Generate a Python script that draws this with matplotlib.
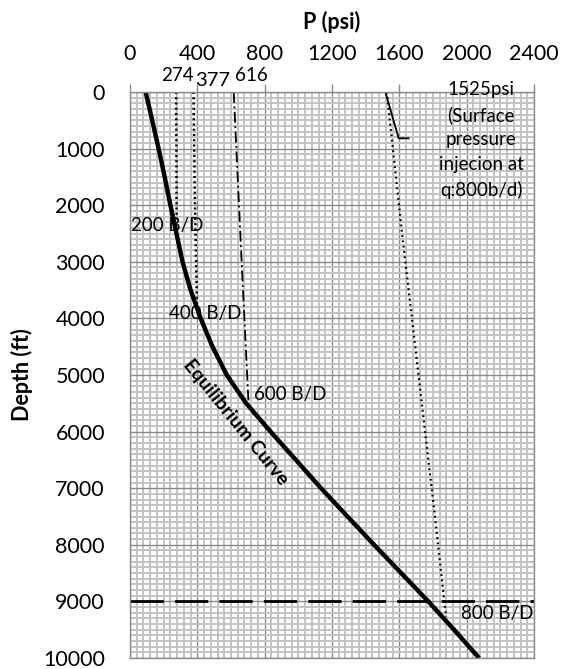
import numpy as np
import matplotlib
matplotlib.use("Agg")
import matplotlib.pyplot as plt
from matplotlib.ticker import MultipleLocator

plt.rcParams['font.family'] = ['Lato', 'DejaVu Sans']

# equilibrium curve (psi vs depth ft)
eq_depth = [0, 500, 1000, 1500, 2000, 2500, 3000, 3500, 4000, 4500, 5000,
            5500, 6000, 6500, 7000, 7500, 8000, 8500, 9000, 9500, 10000]
eq_psi = [93, 132, 170, 206, 240, 276, 312, 360, 420, 490, 575,
          690, 835, 985, 1135, 1292, 1450, 1611, 1772, 1925, 2074]

# injection rate curves
q200_psi = [274, 276, 277]
q200_depth = [0, 1200, 2250]
q400_psi = [377, 386, 398]
q400_depth = [0, 2000, 3800]
q600_psi = [616, 660, 705]
q600_depth = [0, 2800, 5550]
q800_psi = [1525, 1620, 1800, 1878]
q800_depth = [0, 2600, 7200, 9280]

# leader line for the surface pressure note
lead_psi = [1517, 1596, 1655]
lead_depth = [0, 818, 818]

packer_depth = 9000

fig = plt.figure(figsize=(5.71, 6.69), dpi=100)
ax = fig.add_axes([130 / 571, 11 / 669, 404 / 571, 566 / 669])

ax.set_xlim(0, 2400)
ax.set_ylim(10000, 0)
ax.xaxis.set_major_locator(MultipleLocator(400))
ax.xaxis.set_minor_locator(MultipleLocator(40))
ax.yaxis.set_major_locator(MultipleLocator(1000))
ax.yaxis.set_minor_locator(MultipleLocator(100))

ax.grid(which='minor', color='#c3c3c3', lw=1.4)
ax.grid(which='major', color='#8a8a8a', lw=1.0)
ax.set_axisbelow(True)

ax.xaxis.tick_top()
ax.tick_params(axis='x', which='major', direction='out', length=6, width=1, color='#8a8a8a',
               labelsize=15.5, pad=14)
ax.tick_params(axis='y', which='major', length=0, labelsize=15.5, pad=18)
ax.tick_params(which='minor', length=0)
for s in ax.spines.values():
    s.set_color('#8a8a8a')
    s.set_linewidth(1.0)

ax.plot(eq_psi, eq_depth, color='black', lw=3.2, solid_capstyle='butt', solid_joinstyle='round')
ax.plot(q200_psi, q200_depth, color='black', lw=1.8, linestyle=(0, (0.8, 1.3)))
ax.plot(q400_psi, q400_depth, color='black', lw=1.8, linestyle=(0, (0.8, 1.3)))
ax.plot(q600_psi, q600_depth, color='black', lw=1.3, linestyle=(0, (6, 2, 1, 2)))
ax.plot(q800_psi, q800_depth, color='black', lw=1.6, linestyle=(0, (0.8, 1.6)))
ax.plot(lead_psi, lead_depth, color='black', lw=1.3)
ax.axhline(packer_depth, color='black', lw=2.0, linestyle=(0, (12, 4)))

fs = 13.5
ax.text(279, -300, '274', fontsize=fs, ha='center', va='center')
ax.text(492, -212, '377', fontsize=14.5, ha='center', va='center')
ax.text(723, -283, '616', fontsize=fs, ha='center', va='center')
ax.text(219, 2350, '200 B/D', fontsize=fs, ha='center', va='center')
ax.text(444, 3922, '400 B/D', fontsize=fs, ha='center', va='center')
ax.text(954, 5353, '600 B/D', fontsize=fs, ha='center', va='center')
ax.text(2181, 9205, '800 B/D', fontsize=fs, ha='center', va='center')
ax.text(625, 5840, 'Equilibrium Curve', fontsize=14, fontweight='bold', rotation=-51,
        ha='center', va='center', rotation_mode='anchor')
ax.text(2086, 848, '1525psi\n(Surface\npressure\ninjecion at\nq:800b/d)', fontsize=fs,
        ha='center', va='center', multialignment='center', linespacing=1.55)

fig.text(332 / 571, 1 - 22 / 669, 'P (psi)', fontsize=15.5, fontweight='bold', ha='center', va='center')
fig.text(22 / 571, 1 - 375 / 669, 'Depth (ft)', fontsize=15.5, fontweight='bold', ha='center', va='center',
         rotation=90)

fig.savefig('out.png', dpi=100)
